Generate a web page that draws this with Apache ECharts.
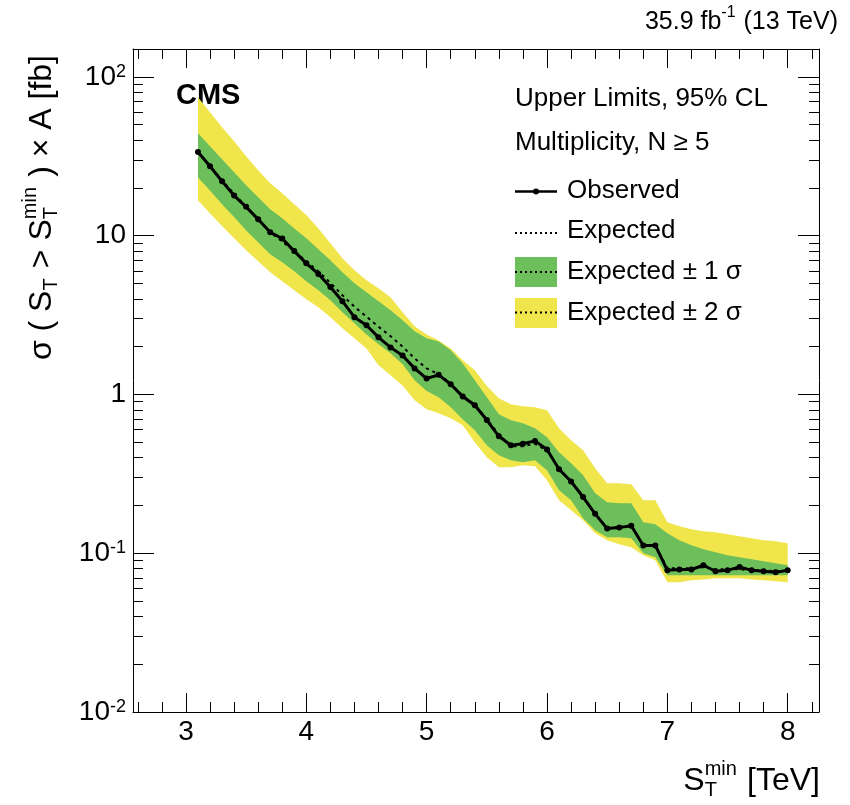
<!DOCTYPE html>
<html><head><meta charset="utf-8">
<script src="https://cdn.jsdelivr.net/npm/echarts@6/dist/echarts.min.js"></script>
<style>html,body{margin:0;padding:0;background:#fff}#c{width:850px;height:805px}</style>
</head><body><div id="c"></div>
<script>
// ---- data ----
const stMin = [3.1,3.2,3.3,3.4,3.5,3.6,3.7,3.8,3.9,4.0,
               4.1,4.2,4.3,4.4,4.5,4.6,4.7,4.8,4.9,5.0,
               5.1,5.2,5.3,5.4,5.5,5.6,5.7,5.8,5.9,6.0,
               6.1,6.2,6.3,6.4,6.5,6.6,6.7,6.8,6.9,7.0,
               7.1,7.2,7.3,7.4,7.5,7.6,7.7,7.8,7.9,8.0];
const observed = [33.7,27.4,22.0,17.9,15.2,12.7,10.5,9.6,8.0,6.7,
                  5.74,4.75,3.87,3.07,2.73,2.29,1.98,1.76,1.46,1.26,
                  1.33,1.16,0.97,0.855,0.69,0.545,0.479,0.49,0.51,0.45,
                  0.338,0.283,0.226,0.177,0.143,0.145,0.149,0.112,0.112,0.078,
                  0.079,0.079,0.084,0.077,0.078,0.082,0.078,0.077,0.076,0.078];
const expected = [33.7,27.4,22.4,18.4,15.1,12.6,10.5,9.2,7.98,6.9,
                  5.97,5.05,4.22,3.57,3.09,2.67,2.33,2.00,1.69,1.46,
                  1.34,1.17,0.98,0.861,0.698,0.561,0.472,0.472,0.489,0.442,
                  0.340,0.284,0.225,0.1785,0.1437,0.1458,0.150,0.112,0.112,0.0804,
                  0.0804,0.0804,0.0816,0.0792,0.0792,0.0792,0.0781,0.0781,0.0770,0.0781];
const exp1Up = [44.2,36.6,30.3,25.1,20.8,17.5,14.7,12.9,11.1,9.64,
                8.22,7.00,5.89,5.02,4.40,3.87,3.39,2.93,2.50,2.26,
                2.16,1.90,1.57,1.23,0.960,0.750,0.688,0.659,0.612,0.538,
                0.432,0.369,0.310,0.2385,0.2094,0.2063,0.2063,0.1567,0.1522,0.1336,
                0.1207,0.1122,0.1059,0.1014,0.0971,0.0943,0.0916,0.0890,0.0865,0.0840];
const exp1Dn = [23.3,19.3,15.8,13.1,10.8,9.09,7.64,6.81,5.97,5.17,
                4.53,3.92,3.29,2.81,2.39,2.07,1.82,1.55,1.23,1.05,
                0.960,0.831,0.698,0.595,0.479,0.414,0.385,0.374,0.385,0.333,
                0.249,0.2156,0.166,0.1395,0.126,0.126,0.1242,0.0999,0.0943,0.0726,
                0.0726,0.0726,0.0726,0.0726,0.0726,0.0726,0.0726,0.0726,0.0726,0.0726];
const exp2Up = [74.5,59.9,48.2,39.4,31.7,25.8,21.4,18.5,15.8,13.5,
                11.1,8.96,7.21,6.06,5.24,4.67,4.10,3.29,2.69,2.39,
                2.19,1.95,1.64,1.42,1.13,0.946,0.868,0.843,0.831,0.795,
                0.612,0.515,0.445,0.343,0.276,0.276,0.272,0.2156,0.2156,0.1567,
                0.148,0.1416,0.1375,0.1355,0.1316,0.1278,0.1242,0.1207,0.119,0.1156];
const exp2Dn = [16.7,13.8,11.5,9.64,8.10,6.90,5.89,5.17,4.53,3.98,
                3.54,3.06,2.61,2.26,1.95,1.53,1.32,1.14,0.92,0.807,
                0.761,0.708,0.640,0.50,0.402,0.348,0.348,0.358,0.353,0.288,
                0.2156,0.1865,0.1612,0.1336,0.1207,0.1139,0.109,0.0971,0.0903,0.0656,
                0.0656,0.0675,0.0684,0.0695,0.0695,0.0695,0.0684,0.0675,0.0665,0.0656];
const xMajorTicks = [3,4,5,6,7,8];
const xMinorTicks = [2.6,2.8,3.2,3.4,3.6,3.8,4.2,4.4,4.6,4.8,5.2,5.4,5.6,5.8,6.2,6.4,6.6,6.8,7.2,7.4,7.6,7.8,8.2];
const yMajorTicks = [0.01,0.1,1,10,100];
const yMinorTicks = [0.02,0.03,0.04,0.05,0.06,0.07,0.08,0.09,0.2,0.3,0.4,0.5,0.6,0.7,0.8,0.9,
                     2,3,4,5,6,7,8,9,20,30,40,50,60,70,80,90];
const legendLabels = ['Observed','Expected','Expected \u00b1 1 \u03c3','Expected \u00b1 2 \u03c3'];
const headerLines = ['Upper Limits, 95% CL','Multiplicity, N \u2265 5'];

// ---- styling ----
const FAMILY = '"Liberation Sans", Arial, Helvetica, sans-serif';
const GREEN = '#6cbf5a', YELLOW = '#f0e64b';
const X_MIN = 2.56, X_MAX = 8.26, Y_MIN = 0.01, Y_MAX = 150;

const mctx = document.createElement('canvas').getContext('2d');
function textW(s, size, weight) { mctx.font = (weight || 'normal') + ' ' + size + 'px ' + FAMILY; return mctx.measureText(s).width; }
function txt(x, y, s, size, opts) {
  opts = opts || {};
  return {type:'text', x:x, y:y, silent:true,
    style:{text:s, fontSize:size, fontFamily:FAMILY, fontWeight:opts.weight||'normal', fill:'#000',
           align:opts.align||'left', verticalAlign:opts.va||'middle'}};
}
function mathRow(parts, F) {
  const small = Math.round(F * 0.62);
  let x = 0; const kids = [];
  parts.forEach(p => {
    if (p.t !== undefined) { kids.push(txt(x, 0, p.t, F)); x += textW(p.t, F); }
    else {
      let w = 0;
      if (p.sub) { kids.push(txt(x, F * 0.30, p.sub, small)); w = Math.max(w, textW(p.sub, small)); }
      if (p.sup) { kids.push(txt(x, -F * 0.36, p.sup, small)); w = Math.max(w, textW(p.sup, small)); }
      x += w + F * 0.04;
    }
  });
  kids.forEach(k => { k.x -= x; });   // right-aligned at 0
  return kids;
}

const chart = echarts.init(document.getElementById('c'), null, {renderer:'canvas'});

function bandSeries(up, dn, color, z) {
  return {
    type:'custom', xAxisIndex:0, yAxisIndex:0, z:z, silent:true, clip:true,
    data:[[stMin[0], up[0]]],
    renderItem: function (params, api) {
      const top = stMin.map((x, i) => api.coord([x, up[i]]));
      const bot = stMin.map((x, i) => api.coord([x, dn[i]])).reverse();
      return {type:'polygon', shape:{points: top.concat(bot)}, style:{fill:color, stroke:null}};
    }
  };
}

const lineC = {color:'#000', width:1};
function xAx(pos, major) {
  return {type:'value', min:X_MIN, max:X_MAX, position:pos, gridIndex:0,
    axisLine:{show:major, onZero:false, lineStyle:lineC},
    axisTick:{show:true, inside:true, length: major ? 19 : 10, customValues: major ? xMajorTicks : xMinorTicks, lineStyle:lineC},
    axisLabel:{show: major && pos === 'bottom', customValues:xMajorTicks, fontSize:28, fontFamily:FAMILY, color:'#000', margin:6},
    splitLine:{show:false}};
}
function yAx(pos, major) {
  return {type:'log', logBase:10, min:Y_MIN, max:Y_MAX, position:pos, gridIndex:0,
    axisLine:{show:major, onZero:false, lineStyle:lineC},
    axisTick:{show:true, inside:true, length: major ? 21 : 10, customValues: major ? yMajorTicks : yMinorTicks, lineStyle:lineC},
    axisLabel:{show: major && pos === 'left', customValues:yMajorTicks, fontSize:28, fontFamily:FAMILY, color:'#000', margin:7,
      formatter: function (v) {
        const e = Math.round(Math.log10(v));
        if (e === 0) return '1';
        if (e === 1) return '10';
        return '10{s|' + e + '}';
      },
      rich:{ s:{fontSize:18, fontFamily:FAMILY, color:'#000', verticalAlign:'top'} }},
    splitLine:{show:false}};
}

// legend / annotation graphics
const LX1 = 515, LX2 = 557, TX = 567;
const graphics = [
  txt(176, 96, 'CMS', 29, {weight:'bold'}),
  txt(515, 99, headerLines[0], 26),
  txt(515, 143, headerLines[1], 26),
  {type:'line', shape:{x1:LX1, y1:191.5, x2:LX2, y2:191.5}, style:{stroke:'#000', lineWidth:2.5}},
  {type:'circle', shape:{cx:(LX1+LX2)/2, cy:191.5, r:3}, style:{fill:'#000'}},
  txt(TX, 191, legendLabels[0], 26),
  {type:'line', shape:{x1:LX1, y1:233, x2:LX2, y2:233}, style:{stroke:'#000', lineWidth:1.8, lineDash:[2,3]}},
  txt(TX, 231, legendLabels[1], 26),
  {type:'rect', shape:{x:LX1, y:257, width:LX2-LX1, height:30}, style:{fill:GREEN}},
  {type:'line', shape:{x1:LX1, y1:272, x2:LX2, y2:272}, style:{stroke:'#000', lineWidth:1.8, lineDash:[2,3]}},
  txt(TX, 272, legendLabels[2], 26),
  {type:'rect', shape:{x:LX1, y:298, width:LX2-LX1, height:30}, style:{fill:YELLOW}},
  {type:'line', shape:{x1:LX1, y1:312.5, x2:LX2, y2:312.5}, style:{stroke:'#000', lineWidth:1.8, lineDash:[2,3]}},
  txt(TX, 312.5, legendLabels[3], 26),
  {type:'group', x:838, y:22, children: mathRow([{t:'35.9 fb'},{sup:'-1'},{t:' (13 TeV)'}], 25)},
  {type:'group', x:820, y:781, children: mathRow([{t:'S'},{sub:'T', sup:'min'},{t:' [TeV]'}], 32)},
  {type:'group', x:42, y:55, rotation:Math.PI/2,
   children: mathRow([{t:'\u03c3 ( S'},{sub:'T'},{t:' > S'},{sub:'T', sup:'min'},{t:' ) \u00d7 A [fb]'}], 32)}
];

chart.setOption({
  animation:false,
  backgroundColor:'#fff',
  textStyle:{fontFamily:FAMILY},
  grid:{left:133, top:49, width:686, height:663, containLabel:false},
  xAxis:[xAx('bottom', true), xAx('bottom', false), xAx('top', true), xAx('top', false)],
  yAxis:[yAx('left', true), yAx('left', false), yAx('right', true), yAx('right', false)],
  series:[
    bandSeries(exp2Up, exp2Dn, YELLOW, 1),
    bandSeries(exp1Up, exp1Dn, GREEN, 2),
    {type:'line', xAxisIndex:0, yAxisIndex:0, z:3, silent:true, symbol:'none',
     data: stMin.map((x, i) => [x, expected[i]]),
     lineStyle:{color:'#000', width:2, type:[3,4]}},
    {type:'line', xAxisIndex:0, yAxisIndex:0, z:4, silent:true, symbol:'circle', symbolSize:6,
     data: stMin.map((x, i) => [x, observed[i]]),
     lineStyle:{color:'#000', width:3}, itemStyle:{color:'#000'}}
  ],
  graphic: graphics
});
</script>
</body></html>
